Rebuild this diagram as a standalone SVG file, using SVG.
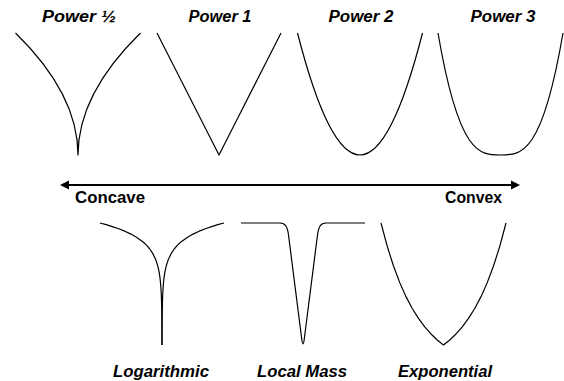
<svg xmlns="http://www.w3.org/2000/svg" width="564" height="381" viewBox="0 0 564 381">
<style>
.curve{fill:none;stroke:#000;stroke-width:1.2;stroke-linejoin:round;stroke-linecap:butt}
.lbl{font-family:"Liberation Sans",Arial,sans-serif;font-size:16px;font-weight:bold;font-style:italic;fill:#000;text-anchor:middle}
.axis{font-family:"Liberation Sans",Arial,sans-serif;font-size:16px;font-weight:bold;fill:#000}
</style>
<defs>
<marker id="ah" markerUnits="userSpaceOnUse" markerWidth="10" markerHeight="10" viewBox="0 0 10 10" refX="3" refY="5" orient="auto-start-reverse">
<path d="M0,0.5 L9,5 L0,9.5 z" fill="#000"/>
</marker>
</defs>
<rect width="564" height="381" fill="#fff"/>

<g id="power-half">
<path class="curve" d="M15.5,33 Q78,94 78,155 Q78,94 140.5,33"/>
<text class="lbl" x="79" y="22" textLength="74" lengthAdjust="spacingAndGlyphs">Power ½</text>
</g>
<g id="power-1">
<path class="curve" d="M157,33 L219,155 L281,33"/>
<text class="lbl" x="220" y="22" textLength="63" lengthAdjust="spacingAndGlyphs">Power 1</text>
</g>
<g id="power-2">
<path class="curve" d="M297.5,33 Q360,277 422.5,33"/>
<text class="lbl" x="361" y="22" textLength="65" lengthAdjust="spacingAndGlyphs">Power 2</text>
</g>
<g id="power-3">
<path class="curve" d="M438,33 C458.83,155 479.67,155 500.5,155 C521.33,155 542.17,155 563,33"/>
<text class="lbl" x="503" y="22" textLength="65" lengthAdjust="spacingAndGlyphs">Power 3</text>
</g>

<g id="connectors">
<line x1="66" y1="185" x2="514" y2="185" stroke="#000" stroke-width="2" marker-start="url(#ah)" marker-end="url(#ah)"/>
</g>
<g id="concave">
<text class="axis" x="75" y="203" textLength="70" lengthAdjust="spacingAndGlyphs">Concave</text>
</g>
<g id="convex">
<text class="axis" x="445" y="203" textLength="57" lengthAdjust="spacingAndGlyphs">Convex</text>
</g>

<g id="logarithmic">
<polyline class="curve" points="100,223 106.2,224.69 112.4,226.57 118.6,228.71 124.8,231.17 131,234.09 137.2,237.66 143.4,242.26 146.5,245.18 149.6,248.75 152.7,253.35 155.8,259.84 157.66,265.55 158.9,270.93 159.83,276.64 160.45,282.02 161.07,290.19 161.38,296.68 161.69,307.77 161.876,322.43 162,335 162,345"/>
<polyline class="curve" points="224,223 217.8,224.69 211.6,226.57 205.4,228.71 199.2,231.17 193,234.09 186.8,237.66 180.6,242.26 177.5,245.18 174.4,248.75 171.3,253.35 168.2,259.84 166.34,265.55 165.1,270.93 164.17,276.64 163.55,282.02 162.93,290.19 162.62,296.68 162.31,307.77 162.124,322.43 162,335 162,345"/>
<text class="lbl" x="161" y="377" textLength="96" lengthAdjust="spacingAndGlyphs">Logarithmic</text>
</g>
<g id="local-mass">
<path class="curve" d="M241,223 H280 C285.5,223 287.5,227 288.5,235 L301.6,338 Q303,350 304.4,338 L317.5,235 C318.5,227 320.5,223 326,223 H365"/>
<text class="lbl" x="302" y="377" textLength="90" lengthAdjust="spacingAndGlyphs">Local Mass</text>
</g>
<g id="exponential">
<polyline class="curve" points="381,223 387.25,246.34 393.5,266.03 399.75,282.63 406,296.65 412.25,308.47 418.5,318.44 424.75,326.86 431,333.96 437.25,339.95 443.5,345 449.75,339.95 456,333.96 462.25,326.86 468.5,318.44 474.75,308.47 481,296.65 487.25,282.63 493.5,266.03 499.75,246.34 506,223"/>
<text class="lbl" x="445" y="377" textLength="94" lengthAdjust="spacingAndGlyphs">Exponential</text>
</g>
</svg>
